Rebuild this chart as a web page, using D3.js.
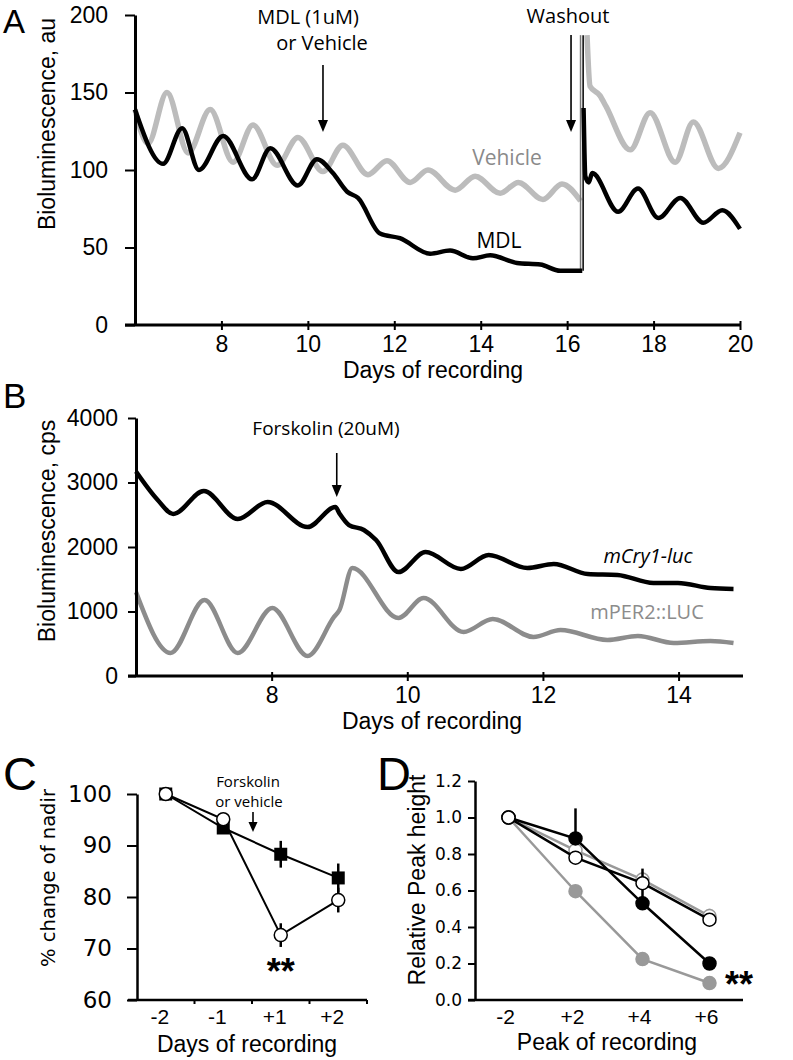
<!DOCTYPE html>
<html><head><meta charset="utf-8">
<script src="https://cdn.jsdelivr.net/npm/d3@7"></script>
<style>
body{margin:0;background:#fff}
svg{display:block;background:#fff}
</style></head><body>
<svg id="c" width="793" height="1060"></svg>
<script>
// ---------- Panel A data (day, bioluminescence au) ----------
const aXTicks = [8,10,12,14,16,18,20];
const aYTicks = [0,50,100,150,200];
const aVehicle = [[6.00,139],[6.30,117],[6.74,150],[7.23,111],[7.74,139],[8.27,105],[8.73,129],[9.29,103],[9.77,121],[10.35,99],[10.81,116],[11.39,97],[11.83,106],[12.37,92],[12.78,100],[13.41,87],[13.87,96],[14.45,85],[14.87,92],[15.44,81],[15.88,91],[16.31,80]];
const aMDL = [[6.00,139],[6.65,104],[7.09,127],[7.48,100],[8.04,122],[8.71,94],[9.13,114],[9.77,90],[10.21,107],[10.58,98],[10.91,86],[11.16,82],[11.67,59],[12.13,56],[12.83,46],[13.29,48],[13.82,43],[14.22,45],[14.84,40],[15.38,39],[15.84,35],[16.35,35]];
const aVehicleWash = [[16.46,187],[16.53,154],[16.76,148],[16.90,141],[17.46,113],[17.92,137],[18.50,105],[18.92,131],[19.50,101],[20.00,124]];
const aMDLWash = [[16.38,140],[16.40,112],[16.42,96],[16.50,92],[16.58,98],[17.18,73],[17.64,88],[18.11,69],[18.62,82],[19.15,66],[19.59,74],[20.00,62]];
const aWashGray = [[16.31,35],[16.31,187]];
const aWashBlack = [[16.37,35],[16.37,187]];

// ---------- Panel B data (day, cps) ----------
const bXTicks = [8,10,12,14];
const bYTicks = [0,1000,2000,3000,4000];
const bCry = [[6.00,3170],[6.32,2729],[6.55,2512],[7.00,2868],[7.50,2434],[7.94,2698],[8.53,2310],[8.94,2620],[9.00,2520],[9.14,2341],[9.36,2264],[9.54,2108],[9.87,1612],[10.27,1922],[10.79,1659],[11.20,1876],[11.77,1674],[12.16,1736],[12.66,1581],[13.10,1566],[13.63,1442],[13.99,1442],[14.47,1364],[14.81,1349]];
const bPer = [[6.00,1300],[6.51,357],[7.01,1178],[7.50,357],[8.01,1054],[8.53,310],[8.92,915],[9.00,1023],[9.19,1674],[9.87,899],[10.24,1209],[10.83,682],[11.26,884],[11.86,605],[12.26,713],[12.95,558],[13.40,620],[13.93,512],[14.47,543],[14.81,512]];

// ---------- Panel C data ----------
const cCats = ["-2","-1","+1","+2"];
const cYTicks = [60,70,80,90,100];
const cVehicle = [100,93.4,88.3,83.7];
const cVehicleErr = [0,0,2.6,2.8];
const cForskolin = [100,95.1,72.6,79.4];
const cForskolinErr = [0,0,2.3,2.4];

// ---------- Panel D data ----------
const dCats = ["-2","+2","+4","+6"];
const dYTicks = [0,0.2,0.4,0.6,0.8,1.0,1.2];
const dGrayFilled = [1.0,0.596,0.224,0.093];
const dGrayOpen = [1.0,0.82,0.66,0.46];
const dGrayOpenErr = [0,0,0.04,0.04];
const dBlackFilled = [1.0,0.885,0.53,0.20];
const dBlackFilledErr = [0,0.165,0.19,0];
const dBlackOpen = [1.0,0.78,0.64,0.44];

const SANS = "'Liberation Sans', Arial, sans-serif";
const HUM = "'Open Sans', sans-serif";
const DJ = "'DejaVu Sans', Verdana, sans-serif";
const svg = d3.select("#c");

function txt(g, x, y, s, o) {
  o = o || {};
  return g.append("text").attr("x", x).attr("y", y).text(s)
    .attr("font-family", o.ff || SANS).attr("font-size", o.fs || 23)
    .attr("text-anchor", o.anchor || "middle").attr("fill", o.fill || "#000")
    .attr("font-style", o.italic ? "italic" : null)
    .attr("font-weight", o.bold ? "bold" : null);
}
function vtxt(g, x, y, s, o) {
  o = o || {};
  return g.append("text").attr("transform", `translate(${x},${y}) rotate(-90)`).text(s)
    .attr("font-family", o.ff || SANS).attr("font-size", o.fs || 23)
    .attr("text-anchor", "middle").attr("fill", "#000");
}
function arrow(g, x, y1, y2, hw, hl) {
  g.append("line").attr("x1", x).attr("x2", x).attr("y1", y1).attr("y2", y2 - hl + 1)
    .attr("stroke", "#000").attr("stroke-width", 1.6);
  g.append("path").attr("d", `M${x - hw},${y2 - hl}L${x + hw},${y2 - hl}L${x},${y2}Z`).attr("fill", "#000");
}
function styleAxis(ax, ff, fs, dw, tw) {
  ax.attr("font-family", ff).attr("font-size", fs);
  ax.selectAll("text").attr("fill", "#000");
  ax.select(".domain").attr("stroke", "#000").attr("stroke-width", dw);
  ax.selectAll(".tick line").attr("stroke", "#000").attr("stroke-width", tw);
}

// ================= Panel A =================
const gA = svg.append("g");
const xA = d3.scaleLinear().domain([6, 20]).range([135, 740]);
const yA = d3.scaleLinear().domain([0, 200]).range([325, 15]);
const lineA = d3.line().x(d => xA(d[0])).y(d => yA(d[1])).curve(d3.curveMonotoneX);
const lineStraightA = d3.line().x(d => xA(d[0])).y(d => yA(d[1]));

gA.append("path").datum(aVehicle).attr("d", lineA).attr("fill", "none").attr("stroke", "#bcbcbc").attr("stroke-width", 5.5).attr("stroke-linejoin", "round");
gA.append("path").datum(aVehicleWash).attr("d", lineA).attr("fill", "none").attr("stroke", "#bcbcbc").attr("stroke-width", 5.5).attr("stroke-linejoin", "round");
gA.append("path").datum(aWashGray).attr("d", lineStraightA).attr("fill", "none").attr("stroke", "#777").attr("stroke-width", 1.5);
gA.append("path").datum(aMDL).attr("d", lineA).attr("fill", "none").attr("stroke", "#000").attr("stroke-width", 4.5).attr("stroke-linejoin", "round");
gA.append("path").datum(aWashBlack).attr("d", lineStraightA).attr("fill", "none").attr("stroke", "#000").attr("stroke-width", 1.5);
gA.append("path").datum(aMDLWash).attr("d", lineA).attr("fill", "none").attr("stroke", "#000").attr("stroke-width", 4.5).attr("stroke-linejoin", "round");

const axAy = gA.append("g").attr("transform", "translate(135,0)")
  .call(d3.axisLeft(yA).tickValues(aYTicks).tickSize(10).tickPadding(17).tickSizeOuter(0));
styleAxis(axAy, SANS, 23, 3, 2);
const axAx = gA.append("g").attr("transform", "translate(0,325)")
  .call(d3.axisBottom(xA).tickValues(aXTicks).tickSize(5).tickPadding(6).tickSizeOuter(0));
styleAxis(axAx, SANS, 23, 3, 2);
axAx.selectAll(".tick line").attr("y1", -4);
axAx.select(".domain").attr("d", "M125,0H740");

vtxt(gA, 55, 124, "Bioluminescence, au");
txt(gA, 433, 378, "Days of recording");
txt(gA, 3, 33, "A", {fs: 33, anchor: "start"});
txt(gA, 308, 24, "MDL (1uM)", {ff: HUM, fs: 20});
txt(gA, 322, 50, "or Vehicle", {ff: HUM, fs: 20});
arrow(gA, xA(10.35), 65, 132, 5, 12);
txt(gA, 568, 23, "Washout", {ff: HUM, fs: 20});
arrow(gA, xA(16.09), 35, 132, 5, 12);
txt(gA, 507, 165, "Vehicle", {ff: HUM, fs: 21, fill: "#8a8a8a"});
txt(gA, 499, 248, "MDL", {ff: HUM, fs: 21});

// ================= Panel B =================
const gB = svg.append("g");
const xB = d3.scaleLinear().domain([6, 14.95]).range([136, 743]);
const yB = d3.scaleLinear().domain([0, 4000]).range([676, 418]);
const lineB = d3.line().x(d => xB(d[0])).y(d => yB(d[1])).curve(d3.curveMonotoneX);

gB.append("path").datum(bPer).attr("d", lineB).attr("fill", "none").attr("stroke", "#8c8c8c").attr("stroke-width", 4.5).attr("stroke-linejoin", "round");
gB.append("path").datum(bCry).attr("d", lineB).attr("fill", "none").attr("stroke", "#000").attr("stroke-width", 4.5).attr("stroke-linejoin", "round");

const axBy = gB.append("g").attr("transform", "translate(136,0)")
  .call(d3.axisLeft(yB).tickValues(bYTicks).tickFormat(d3.format("d")).tickSize(8).tickPadding(10).tickSizeOuter(0));
styleAxis(axBy, SANS, 23, 3, 2);
const axBx = gB.append("g").attr("transform", "translate(0,676)")
  .call(d3.axisBottom(xB).tickValues(bXTicks).tickSize(5).tickPadding(6).tickSizeOuter(0));
styleAxis(axBx, SANS, 23, 3, 2);
axBx.selectAll(".tick line").attr("y1", -4);
axBx.select(".domain").attr("d", "M128,0H743");

vtxt(gB, 55, 531, "Bioluminescence, cps");
txt(gB, 432, 729, "Days of recording");
txt(gB, 3, 408, "B", {fs: 35, anchor: "start"});
txt(gB, 326, 435, "Forskolin (20uM)", {ff: HUM, fs: 19});
arrow(gB, xB(8.96), 453, 497, 5, 12);
txt(gB, 648, 563, "mCry1-luc", {ff: HUM, fs: 20, italic: true});
txt(gB, 647, 619, "mPER2::LUC", {ff: HUM, fs: 20, fill: "#8c8c8c"});

// ================= Panel C =================
const gC = svg.append("g");
const xC = d3.scaleBand().domain(cCats).range([137, 367]);
const yC = d3.scaleLinear().domain([60, 100]).range([1000, 794]);
const cx = c => xC(c) + xC.bandwidth() / 2;
const lineC = d3.line().x((d, i) => cx(cCats[i])).y(d => yC(d));

const axCy = gC.append("g").attr("transform", "translate(137,0)")
  .call(d3.axisLeft(yC).tickValues(cYTicks).tickSize(10).tickPadding(15).tickSizeOuter(0));
styleAxis(axCy, DJ, 23, 2.5, 2);
const axCx = gC.append("g").attr("transform", "translate(0,1000)")
  .call(d3.axisBottom(xC).tickSize(0).tickPadding(9).tickSizeOuter(0));
styleAxis(axCx, SANS, 21, 2.5, 0);
axCx.selectAll(".tick text").attr("dx", -6);
axCx.select(".domain").attr("d", "M128,0H367");
// band-boundary tick marks
gC.selectAll("line.bt").data(cCats.slice(1).concat(["end"])).join("line")
  .attr("x1", (d, i) => xC.range()[0] + xC.step() * (i + 1))
  .attr("x2", (d, i) => xC.range()[0] + xC.step() * (i + 1))
  .attr("y1", 1000).attr("y2", 1004).attr("stroke", "#000").attr("stroke-width", 2);

gC.append("path").datum(cVehicle).attr("d", lineC).attr("fill", "none").attr("stroke", "#000").attr("stroke-width", 2);
gC.append("path").datum(cForskolin).attr("d", lineC).attr("fill", "none").attr("stroke", "#000").attr("stroke-width", 2);
cCats.forEach((c, i) => {
  if (cVehicleErr[i] > 0) gC.append("line").attr("x1", cx(c)).attr("x2", cx(c)).attr("y1", yC(cVehicle[i] - cVehicleErr[i])).attr("y2", yC(cVehicle[i] + cVehicleErr[i])).attr("stroke", "#000").attr("stroke-width", 2.5);
  if (cForskolinErr[i] > 0) gC.append("line").attr("x1", cx(c)).attr("x2", cx(c)).attr("y1", yC(cForskolin[i] - cForskolinErr[i])).attr("y2", yC(cForskolin[i] + cForskolinErr[i])).attr("stroke", "#000").attr("stroke-width", 2.5);
});
gC.selectAll("rect.sq").data(cVehicle).join("rect")
  .attr("x", (d, i) => cx(cCats[i]) - 6.5).attr("y", d => yC(d) - 6.5)
  .attr("width", 13).attr("height", 13).attr("fill", "#000");
gC.selectAll("circle.oc").data(cForskolin).join("circle")
  .attr("cx", (d, i) => cx(cCats[i])).attr("cy", d => yC(d)).attr("r", 6.5)
  .attr("fill", "#fff").attr("stroke", "#000").attr("stroke-width", 1.5);

vtxt(gC, 55, 878, "% change of nadir", {ff: DJ, fs: 19.5});
txt(gC, 247, 1052, "Days of recording", {fs: 23});
txt(gC, 3, 790, "C", {fs: 47, anchor: "start"});
txt(gC, 248, 787, "Forskolin", {ff: HUM, fs: 15});
txt(gC, 249, 807, "or vehicle", {ff: HUM, fs: 15});
arrow(gC, 253, 812, 832, 4.5, 10);
txt(gC, cx("+1"), 984, "**", {fs: 36, bold: true});

// ================= Panel D =================
const gD = svg.append("g");
const xD = d3.scaleBand().domain(dCats).range([475, 743]);
const yD = d3.scaleLinear().domain([0, 1.2]).range([1000, 781]);
const dx = c => xD(c) + xD.bandwidth() / 2;
const lineD = d3.line().x((d, i) => dx(dCats[i])).y(d => yD(d));

const axDy = gD.append("g").attr("transform", "translate(475,0)")
  .call(d3.axisLeft(yD).tickValues(dYTicks).tickFormat(d3.format(".1f")).tickSize(7).tickPadding(6).tickSizeOuter(0));
styleAxis(axDy, DJ, 17, 2.5, 2);
const axDx = gD.append("g").attr("transform", "translate(0,1000)")
  .call(d3.axisBottom(xD).tickSize(0).tickPadding(9).tickSizeOuter(0));
styleAxis(axDx, SANS, 21, 2.5, 0);
axDx.selectAll(".tick text").attr("dx", -3);
axDx.select(".domain").attr("d", "M468,0H743");

function seriesD(vals, err, stroke, fill, ecol) {
  gD.append("path").datum(vals).attr("d", lineD).attr("fill", "none").attr("stroke", stroke).attr("stroke-width", 2.5);
  if (err) dCats.forEach((c, i) => {
    if (err[i] > 0) gD.append("line").attr("x1", dx(c)).attr("x2", dx(c)).attr("y1", yD(vals[i])).attr("y2", yD(vals[i] + err[i])).attr("stroke", ecol).attr("stroke-width", 2.5);
  });
  gD.append("g").selectAll("circle").data(vals).join("circle")
    .attr("cx", (d, i) => dx(dCats[i])).attr("cy", d => yD(d)).attr("r", 6.5)
    .attr("fill", fill).attr("stroke", stroke).attr("stroke-width", 1.5);
}
seriesD(dGrayFilled, null, "#999", "#999");
seriesD(dGrayOpen, dGrayOpenErr, "#999", "#fff", "#999");
seriesD(dBlackFilled, dBlackFilledErr, "#000", "#000", "#000");
seriesD(dBlackOpen, null, "#000", "#fff");

vtxt(gD, 425, 880, "Relative Peak height", {fs: 23});
txt(gD, 607, 1050, "Peak of recording", {fs: 23});
txt(gD, 377, 790, "D", {fs: 47, anchor: "start"});
txt(gD, 739, 997, "**", {fs: 36, bold: true});
</script>
</body></html>
